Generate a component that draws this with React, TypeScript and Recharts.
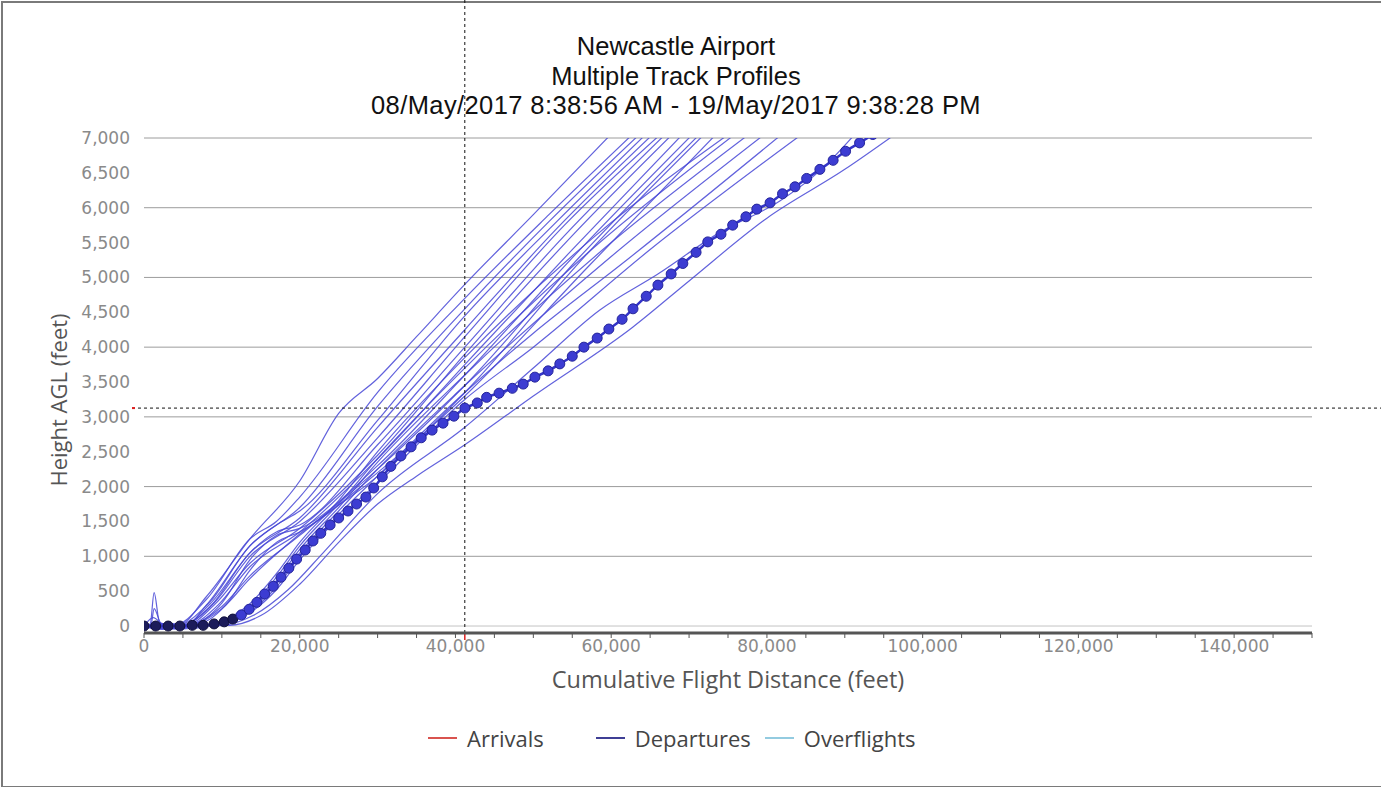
import { LineChart, Line, XAxis, YAxis, ReferenceLine } from "recharts";

// ---- data (distance ft, height ft) ----
const titleLines = [
  "Newcastle Airport",
  "Multiple Track Profiles",
  "08/May/2017 8:38:56 AM - 19/May/2017 9:38:28 PM",
];

const distanceTicks = [
  0, 5000, 10000, 15000, 20000, 25000, 30000, 35000, 40000, 45000, 50000, 55000, 60000,
  65000, 70000, 75000, 80000, 85000, 90000, 95000, 100000, 105000, 110000, 115000, 120000,
  125000, 130000, 135000, 140000, 145000, 150000,
];
const distanceLabels = [0, 20000, 40000, 60000, 80000, 100000, 120000, 140000];
const heightTicks = [0, 500, 1000, 1500, 2000, 2500, 3000, 3500, 4000, 4500, 5000, 5500, 6000, 6500, 7000];
const heightGrid = [0, 1000, 2000, 3000, 4000, 5000, 6000, 7000];

const cursorPoint = { distance: 41200, height: 3126 };

const legendItems = [
  { name: "Arrivals", color: "#d9534f" },
  { name: "Departures", color: "#3f3f95" },
  { name: "Overflights", color: "#93cbe0" },
];

const track01 = [[0, 0], [1500, -40], [3000, 20], [4500, 20], [8000, 420], [13600, 1250], [20000, 2080], [25000, 3050], [30000, 3550], [35000, 4150], [41200, 4900], [50000, 5900], [60200, 7080]];
const track02 = [[0, 0], [2000, 30], [4000, 20], [8000, 380], [13600, 1250], [17000, 1500], [20000, 1850], [30000, 3350], [41200, 4700], [52000, 5900], [63000, 7080]];
const track03 = [[0, 0], [800, 30], [1300, 480], [2000, 50], [5000, -30], [8000, 300], [13600, 1150], [20000, 1700], [30000, 3150], [41200, 4550], [52000, 5800], [63900, 7080]];
const track04 = [[0, 0], [2500, -50], [5000, 20], [8500, 350], [13600, 1150], [17000, 1450], [20000, 1650], [30000, 2950], [41200, 4450], [53000, 5800], [64700, 7080]];
const track05 = [[0, 0], [900, 20], [1300, 250], [2200, 40], [5000, 20], [8500, 320], [13600, 1050], [20000, 1550], [30000, 2850], [41200, 4250], [53000, 5700], [65600, 7080]];
const track06 = [[0, 0], [3000, -40], [5500, 20], [9000, 330], [13600, 1000], [20000, 1500], [30000, 2700], [41200, 4150], [54000, 5750], [66600, 7080]];
const track07 = [[0, 0], [1200, 120], [2500, 20], [5000, 15], [8500, 280], [13600, 1050], [17000, 1350], [20000, 1450], [30000, 2600], [41200, 4000], [54000, 5600], [67200, 7080]];
const track08 = [[0, 0], [3500, 30], [5500, 20], [9000, 300], [13600, 900], [20000, 1400], [30000, 2450], [41200, 3900], [55000, 5600], [68100, 7080]];
const track09 = [[0, 0], [2000, -30], [6000, 20], [9500, 300], [13600, 850], [20000, 1350], [30000, 2400], [41200, 3750], [55000, 5400], [69400, 7080]];
const track10 = [[0, 0], [6000, 20], [10000, 330], [13600, 950], [17000, 1300], [20000, 1400], [30000, 2300], [41200, 3600], [56000, 5400], [70700, 7080]];
const track11 = [[0, 0], [4000, -40], [6500, 20], [10000, 280], [13600, 720], [20000, 1300], [30000, 2250], [41200, 3450], [56000, 5300], [71600, 7080]];
const track12 = [[0, 0], [6000, 20], [10000, 250], [13600, 680], [20000, 1320], [30000, 2150], [41200, 3350], [57000, 5350], [72200, 7080]];
const track13 = [[0, 0], [3000, 30], [6500, 20], [10500, 300], [13600, 800], [17000, 1200], [20000, 1350], [30000, 2200], [41200, 3300], [57000, 5150], [73700, 7080]];
const track14 = [[0, 0], [8000, 15], [11500, 150], [13600, 320], [17000, 750], [20000, 1200], [25000, 1800], [30000, 2500], [41200, 3850], [58000, 5600], [75400, 7080]];
const track15 = [[0, 0], [4000, -30], [8500, 15], [12000, 160], [13600, 280], [17000, 700], [20000, 1150], [25000, 1750], [30000, 2400], [41200, 3700], [58000, 5450], [76200, 7080]];
const track16 = [[0, 0], [8500, 15], [12000, 150], [13600, 260], [17000, 650], [20000, 1100], [25000, 1700], [30000, 2350], [41200, 3600], [60000, 5500], [78000, 7080]];
const track17 = [[0, 0], [9000, 15], [12500, 150], [13600, 230], [17000, 600], [20000, 1050], [25000, 1650], [30000, 2250], [41200, 3450], [60000, 5300], [80000, 7080]];
const track18 = [[0, 0], [5000, -40], [9000, 15], [12500, 140], [13600, 210], [17000, 560], [20000, 1000], [25000, 1600], [30000, 2150], [41200, 3350], [50000, 4200], [62000, 5250], [82200, 7080]];
const track19 = [[0, 0], [9500, 15], [13000, 150], [17000, 520], [20000, 950], [25000, 1550], [30000, 2050], [41200, 3250], [50000, 4000], [65000, 5400], [84800, 7080]];
const track20 = [[0, 0], [10000, 10], [14000, 150], [18500, 520], [23000, 1050], [30000, 1900], [41200, 2850], [50000, 3700], [58500, 4530], [66000, 5050], [74000, 5650], [81700, 6100], [87000, 6550], [91500, 7080]];
const track21 = [[0, 0], [11000, 10], [15000, 150], [20000, 600], [25000, 1200], [30000, 1750], [35000, 2150], [41200, 2600], [50000, 3300], [62800, 4290], [70000, 4950], [80000, 5850], [90000, 6550], [96800, 7080]];

const highlightTrack = [
  [0, 0], [1500, 0], [3100, 0], [4600, 0], [6200, 10], [7600, 10], [9000, 30], [10300, 60], [11400, 100],
  [12500, 160], [13500, 240], [14500, 340], [15500, 460], [16600, 570], [17600, 700], [18600, 830],
  [19600, 960], [20700, 1090], [21700, 1220], [22700, 1330], [23900, 1450], [25000, 1550], [26200, 1650],
  [27300, 1750], [28500, 1850], [29500, 1980], [30600, 2140], [31700, 2290], [33000, 2440], [34300, 2570],
  [35600, 2700], [37000, 2810], [38400, 2910], [39800, 3010], [41200, 3126], [42800, 3200], [44000, 3280],
  [45600, 3340], [47300, 3410], [48700, 3470], [50200, 3570], [51900, 3660], [53400, 3760], [55000, 3870],
  [56500, 4000], [58200, 4130], [59700, 4260], [61400, 4400], [62800, 4550], [64500, 4730], [66000, 4890],
  [67700, 5050], [69200, 5200], [70900, 5360], [72400, 5510], [74100, 5620], [75600, 5750], [77300, 5870],
  [78700, 5980], [80400, 6070], [82000, 6200], [83600, 6300], [85100, 6420], [86800, 6550], [88500, 6680],
  [90100, 6810], [91900, 6930], [93600, 7050],
];

const departureTracks = [
  track01, track02, track03, track04, track05, track06, track07, track08, track09, track10, track11,
  track12, track13, track14, track15, track16, track17, track18, track19, track20, track21,
];

const toPoints = (arr: number[][]) => arr.map(([distance, height]) => ({ distance, height }));

const tickFont = { fill: "#8a8a8a", fontSize: 17, fontFamily: "DejaVu Sans" };
const labelFont = "'Open Sans', sans-serif";

function VerticalCursor(props: any) {
  const { x1, y1, y2 } = props;
  const bottom = Math.max(y1, y2);
  return (
    <g>
      <line x1={x1} x2={x1} y1={0} y2={bottom + 3} stroke="#111" strokeDasharray="3 3" />
      <line x1={x1} x2={x1} y1={bottom + 1} y2={bottom + 7} stroke="#e02020" strokeWidth={1.5} />
    </g>
  );
}

function HorizontalCursor(props: any) {
  const { x1, x2, y1 } = props;
  const left = Math.min(x1, x2);
  return (
    <g>
      <line x1={left - 12} x2={1381} y1={y1} y2={y1} stroke="#111" strokeDasharray="3 3" />
      <line x1={left - 12} x2={left - 9} y1={y1} y2={y1} stroke="#e02020" strokeWidth={2} />
    </g>
  );
}

function TrackDot(props: any) {
  const { cx, cy, payload } = props;
  if (cx == null || cy == null) return null;
  const ground = payload && payload.height < 120;
  return (
    <circle
      cx={cx}
      cy={cy}
      r={5}
      fill={ground ? "#1c1c5a" : "#3c3cd2"}
      stroke={ground ? "#10103a" : "#25259a"}
      strokeWidth={1}
    />
  );
}

export default function App() {
  return (
    <div style={{ position: "fixed", left: 0, top: 0, width: 1381, height: 787, background: "#fff", overflow: "hidden" }}>
      <div
        style={{
          position: "absolute",
          left: 1,
          top: 1,
          width: 1390,
          height: 783,
          borderLeft: "2px solid #7a7a7a",
          borderTop: "2px solid #7a7a7a",
          borderBottom: "2px solid #7a7a7a",
        }}
      />
      <div
        style={{
          position: "absolute",
          left: 276,
          top: 32,
          width: 800,
          textAlign: "center",
          fontFamily: "'Liberation Sans', Arial, sans-serif",
          fontSize: 25.5,
          lineHeight: "29.5px",
          color: "#111",
        }}
      >
        {titleLines.map((t, i) => (
          <div key={t} style={{ whiteSpace: "nowrap", letterSpacing: i === 2 ? 0.4 : 0 }}>{t}</div>
        ))}
      </div>

      <div style={{ position: "absolute", left: 0, top: 0 }}>
        <LineChart width={1381} height={787} margin={{ top: 138, right: 69, bottom: 124, left: 44 }}>
          <XAxis
            type="number"
            dataKey="distance"
            domain={[0, 150000]}
            allowDataOverflow
            ticks={distanceTicks}
            interval={0}
            tickFormatter={(v: number) => (distanceLabels.includes(v) ? v.toLocaleString("en-US") : "")}
            axisLine={{ stroke: "#555", strokeWidth: 3 }}
            tickLine={{ stroke: "#555" }}
            tickSize={5}
            height={30}
            tick={tickFont}
          />
          <YAxis
            type="number"
            dataKey="height"
            domain={[-100, 7000]}
            allowDataOverflow
            ticks={heightTicks}
            interval={0}
            tickFormatter={(v: number) => v.toLocaleString("en-US")}
            axisLine={false}
            tickLine={false}
            tickMargin={8}
            width={100}
            tick={tickFont}
          />
          {heightGrid.map((v) => (
            <ReferenceLine key={v} y={v} stroke={v === 0 ? "#c4c4c4" : "#9c9c9c"} />
          ))}
          {departureTracks.map((t, i) => (
            <Line
              key={i}
              data={toPoints(t)}
              dataKey="height"
              type="monotone"
              dot={false}
              stroke="#4646d6"
              strokeOpacity={0.85}
              strokeWidth={1.2}
              isAnimationActive={false}
            />
          ))}
          <Line
            data={toPoints(highlightTrack)}
            dataKey="height"
            type="monotone"
            stroke="#3434c8"
            strokeWidth={2.5}
            dot={TrackDot}
            isAnimationActive={false}
          />
          <ReferenceLine x={cursorPoint.distance} ifOverflow="visible" shape={VerticalCursor} />
          <ReferenceLine y={cursorPoint.height} ifOverflow="visible" shape={HorizontalCursor} />
        </LineChart>
      </div>

      <div
        style={{
          position: "absolute",
          left: 0,
          top: 663,
          width: 1456,
          textAlign: "center",
          fontFamily: labelFont,
          fontSize: 23.5,
          color: "#555",
        }}
      >
        Cumulative Flight Distance (feet)
      </div>
      <div
        style={{
          position: "absolute",
          left: 58,
          top: 400,
          transform: "translate(-50%, -50%) rotate(-90deg)",
          whiteSpace: "nowrap",
          fontFamily: labelFont,
          fontSize: 22,
          color: "#555",
        }}
      >
        Height AGL (feet)
      </div>

      <div
        style={{
          position: "absolute",
          left: 428,
          top: 723,
          display: "flex",
          alignItems: "center",
          fontFamily: labelFont,
          fontSize: 22,
          color: "#444",
        }}
      >
        {legendItems.map((item, i) => (
          <div key={item.name} style={{ display: "flex", alignItems: "center", marginRight: i === 0 ? 52 : 14 }}>
            <span style={{ display: "inline-block", width: 29, height: 2, background: item.color, marginRight: 10 }} />
            <span>{item.name}</span>
          </div>
        ))}
      </div>
    </div>
  );
}
